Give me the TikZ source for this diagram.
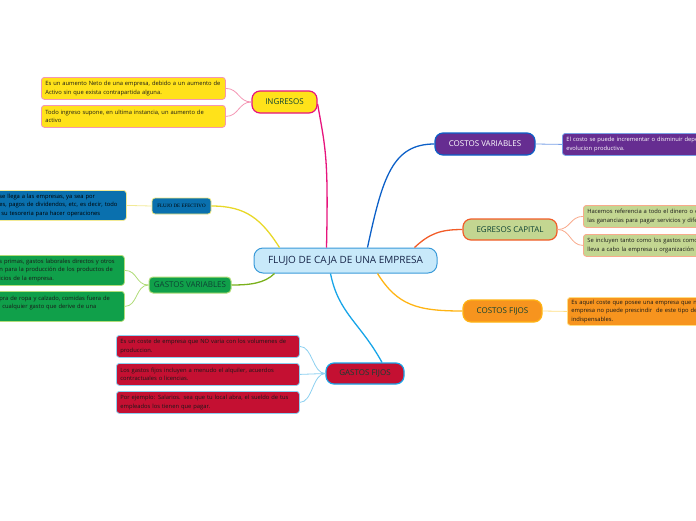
\documentclass[tikz,border=0pt]{standalone}
\usepackage{fontspec}
\setmainfont{Open Sans}
\newfontfamily\tinyserif{Liberation Serif}
\usepackage{tikz}
\usepackage{xcolor}
\definecolor{cjfill}{RGB}{200,233,250}
\definecolor{cjborder}{RGB}{58,154,217}
\definecolor{cjtext}{RGB}{22,36,72}
\definecolor{topictxt}{RGB}{14,66,52}
\definecolor{ingfill}{RGB}{255,226,26}
\definecolor{ingline}{RGB}{230,20,125}
\definecolor{ingleaf}{RGB}{244,150,180}
\definecolor{flufill}{RGB}{10,112,174}
\definecolor{fluline}{RGB}{232,216,40}
\definecolor{fluleaf}{RGB}{242,234,150}
\definecolor{gvfill}{RGB}{16,160,74}
\definecolor{gvline}{RGB}{122,176,27}
\definecolor{gvleaf}{RGB}{176,220,120}
\definecolor{gffill}{RGB}{196,16,50}
\definecolor{gfline}{RGB}{24,165,232}
\definecolor{gfleaf}{RGB}{140,208,240}
\definecolor{cvfill}{RGB}{102,45,145}
\definecolor{cvline}{RGB}{12,96,200}
\definecolor{cvleaf}{RGB}{120,160,230}
\definecolor{ecfill}{RGB}{195,214,145}
\definecolor{ecline}{RGB}{242,92,40}
\definecolor{ecleaf}{RGB}{248,170,140}
\definecolor{cffill}{RGB}{247,148,30}
\definecolor{cfline}{RGB}{255,180,20}
\definecolor{cfleaf}{RGB}{255,222,130}
\newcommand{\lcut}{\hspace*{7pt}}

\begin{document}
\begin{tikzpicture}[x=1pt,y=-1pt,
  topic/.style={draw,rounded corners=8pt,line width=1.2pt,inner sep=0pt,
    font=\fontsize{8}{9}\selectfont,text=topictxt},
  leaf/.style={draw,rounded corners=3pt,line width=0.8pt,anchor=north west,
    inner xsep=4pt,inner ysep=0pt,align=left,
    font=\fontsize{5.8}{8.5}\selectfont,text=black!90},
  branch/.style={line width=1.3pt},
  twig/.style={line width=0.8pt}]
\useasboundingbox (0,0) rectangle (696,520);
\clip (0,0) rectangle (696,520);

\node[draw=cjborder,fill=cjfill,rounded corners=9pt,line width=1pt,
  minimum width=183pt,minimum height=25pt,inner sep=0pt,
  font=\fontsize{10}{11}\selectfont,text=cjtext] (fl) at (345.5,260.5)
  {FLUJO DE CAJA DE UNA EMPRESA};

% ramas
\node[topic,fill=ingfill,draw=ingline,minimum width=65pt,minimum height=22pt] (ing) at (284.5,102) {INGRESOS};
\node[topic,fill=flufill,draw=fluline!60,rounded corners=3pt,line width=0.8pt,
  minimum width=59pt,minimum height=16pt,text=black,
  font=\tinyserif\fontsize{5}{5.5}\selectfont] (flu) at (181.5,206) {FLUJO DE EFECTIVO};
\node[topic,fill=gvfill,draw=gvleaf,line width=1pt,rounded corners=4pt,
  minimum width=82pt,minimum height=16pt] (gv) at (190,285) {GASTOS VARIABLES};
\node[topic,fill=gffill,draw=gfline,minimum width=78pt,minimum height=21pt] (gf) at (365,373.5) {GASTOS FIJOS};
\node[topic,fill=cvfill,draw=cvline,text=white,minimum width=100pt,minimum height=22pt] (cv) at (485,144) {COSTOS VARIABLES};
\node[topic,fill=ecfill,draw=ecline,minimum width=94pt,minimum height=21pt] (ec) at (510,229.5) {EGRESOS CAPITAL};
\node[topic,fill=cffill,draw=cfline,minimum width=79pt,minimum height=22pt] (cf) at (502.5,311) {COSTOS FIJOS};

% hojas
\node[leaf,fill=ingfill,draw=ingleaf,minimum width=184pt,minimum height=22pt,text width=176pt] (ing1) at (41,77)
  {Es un aumento Neto de una empresa, debido a un aumento de\\Activo sin que exista contrapartida alguna.};
\node[leaf,fill=ingfill,draw=ingleaf,minimum width=184pt,minimum height=22pt,text width=176pt] (ing2) at (41,105)
  {Todo ingreso supone, en ultima instancia, un aumento de\\activo};
\node[leaf,fill=flufill,draw=fluleaf,minimum width=138pt,minimum height=30pt,text width=130pt,text=black] (flu1) at (-12,190)
  {\lcut se llega a las empresas, ya sea por\\\lcut es, pagos de dividendos, etc, es decir, todo\\\lcut\hspace*{2pt}su tesoreria para hacer operaciones};
\node[leaf,fill=gvfill,draw=gvleaf,minimum width=136pt,minimum height=30pt,text width=128pt] (gv1) at (-12,255)
  {\lcut s primas, gastos laborales directos y otros\\\lcut n para la producción de los productos de\\\lcut icios de la empresa.};
\node[leaf,fill=gvfill,draw=gvleaf,minimum width=136pt,minimum height=30pt,text width=128pt] (gv2) at (-12,291)
  {\lcut pra de ropa y calzado, comidas fuera de\\\lcut\hspace*{3pt}cualquier gasto que derive de una\\~};
\node[leaf,fill=gffill,draw=gfleaf,minimum width=183pt,minimum height=22pt,text width=175pt] (gf1) at (116,335)
  {Es un coste de empresa que NO varia con los volumenes de\\produccion.};
\node[leaf,fill=gffill,draw=gfleaf,minimum width=183pt,minimum height=22pt,text width=175pt] (gf2) at (116,363)
  {Los gastos fijos incluyen a menudo el alquiler, acuerdos\\contractuales o licencias.};
\node[leaf,fill=gffill,draw=gfleaf,minimum width=183pt,minimum height=22pt,text width=175pt] (gf3) at (116,391)
  {Por ejemplo: Salarios. sea que tu local abra, el sueldo de tus\\empleados los tienen que pagar.};
\node[leaf,fill=cvfill,draw=cvleaf,minimum width=200pt,minimum height=22pt,text width=192pt,text=white] (cv1) at (562,133)
  {El costo se puede incrementar o disminuir dependiendo de la\\evolucion productiva.};
\node[leaf,fill=ecfill,draw=ecleaf,minimum width=200pt,minimum height=22pt,text width=192pt] (ec1) at (583,205)
  {Hacemos referencia a todo el dinero o egresos que\\las ganancias para pagar servicios y diferentes};
\node[leaf,fill=ecfill,draw=ecleaf,minimum width=200pt,minimum height=22pt,text width=192pt] (ec2) at (583,234)
  {Se incluyen tanto como los gastos como los\\lleva a cabo la empresa u organización para};
\node[leaf,fill=cffill,draw=cfleaf,minimum width=200pt,minimum height=28pt,text width=192pt] (cf1) at (567,297)
  {Es aquel coste que posee una empresa que no\\empresa no puede prescindir ~de este tipo de\\indispensables.};

% conectores centrales
\draw[branch,ingline] ([xshift=-19pt]fl.north) .. controls +(2,-90) and +(8,45) .. ([yshift=-2pt]ing.east);
\draw[branch,fluline] ([xshift=-66pt]fl.north) .. controls +(-18,-28) and +(35,0) .. (flu.east);
\draw[branch,gvline] ([xshift=-71pt]fl.south) .. controls +(-10,10) and +(18,0) .. (gv.east);
\draw[branch,gfline] ([xshift=-15pt]fl.south) .. controls +(8,40) and +(-22,-40) .. ([xshift=17pt]gf.north);
\draw[branch,cvline] ([xshift=22pt]fl.north) .. controls +(15,-70) and +(-42,0) .. (cv.west);
\draw[branch,ecline] ([xshift=69pt]fl.north) .. controls +(15,-14) and +(-22,0) .. (ec.west);
\draw[branch,cfline] ([xshift=32pt]fl.south) .. controls +(20,32) and +(-45,0) .. (cf.west);

% conectores de hojas
\foreach \a/\b/\c in {ing/ing1/ingleaf,ing/ing2/ingleaf,flu/flu1/fluleaf,gv/gv1/gvleaf,gv/gv2/gvleaf,
    gf/gf1/gfleaf,gf/gf2/gfleaf,gf/gf3/gfleaf}{
  \draw[twig,\c] (\a.west) .. controls +(-13,0) and +(13,0) .. (\b.east);
}
\foreach \a/\b/\c in {cv/cv1/cvleaf,ec/ec1/ecleaf,ec/ec2/ecleaf,cf/cf1/cfleaf}{
  \draw[twig,\c] (\a.east) .. controls +(13,0) and +(-13,0) .. (\b.west);
}
\end{tikzpicture}
\end{document}
